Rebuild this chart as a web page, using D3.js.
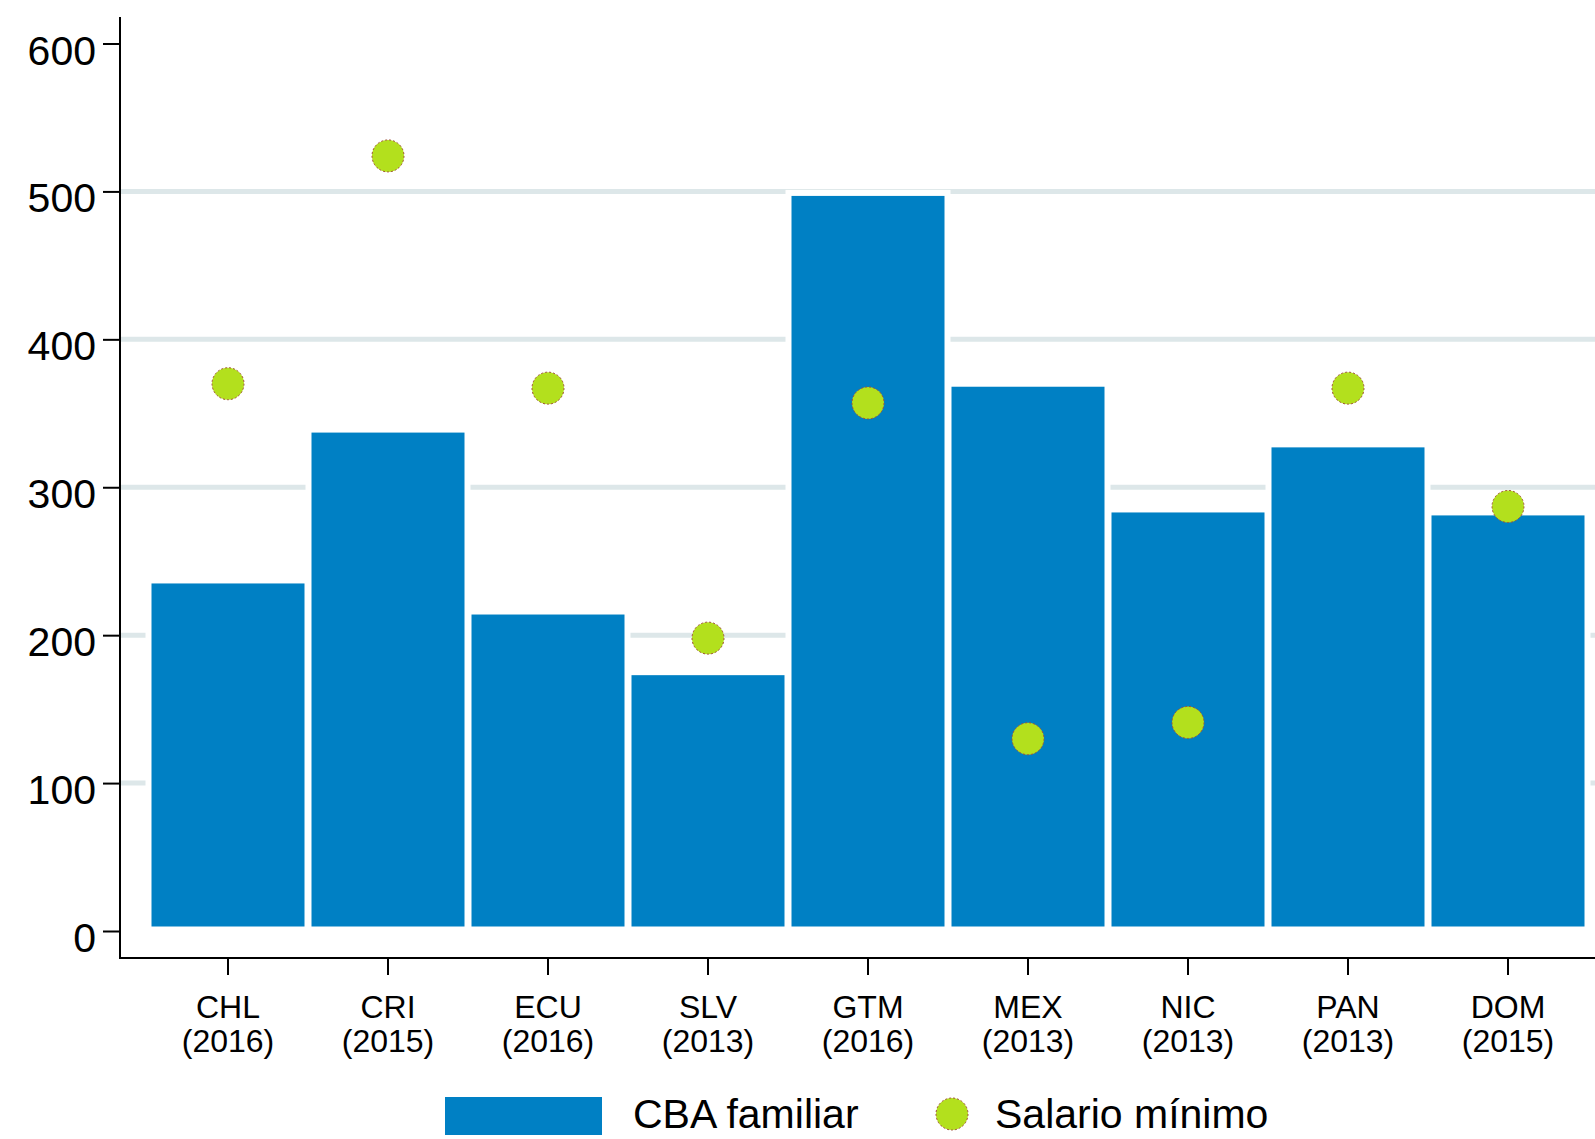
<!DOCTYPE html>
<meta charset="utf-8">
<head>
  <title>CBA familiar y salario minimo</title>
</head>

<style>
body { margin: 0; background: #fff; }
text {
  font-family: "Liberation Sans", Arial, Helvetica, sans-serif;
  fill: #000;
}
.grid line { stroke: #dde7e9; stroke-width: 5; }
.bar { fill: #0080c4; stroke: #fff; stroke-width: 12; paint-order: stroke; }
.dot { fill: #b3e01d; stroke: #a0503a; stroke-width: 1; stroke-dasharray: 2,2; }
</style>

<body>
  <svg width="1595" height="1139"></svg>

  <script src="https://cdnjs.cloudflare.com/ajax/libs/d3/7.8.5/d3.min.js"></script>
  <script>

  // countries and survey years
  var countries = ['CHL', 'CRI', 'ECU', 'SLV', 'GTM', 'MEX', 'NIC', 'PAN', 'DOM'];
  var years = ['(2016)', '(2015)', '(2016)', '(2013)', '(2016)', '(2013)', '(2013)', '(2013)', '(2015)'];

  // CBA familiar (bars) and salario minimo (dots)
  var cbaFamiliar = [238, 340, 217, 176, 500, 371, 286, 330, 284];
  var salarioMinimo = [370, 524, 367, 198, 357, 130, 141, 367, 287];

  var yTicks = [0, 100, 200, 300, 400, 500, 600];
  var gridTicks = [100, 200, 300, 400, 500];

  var svg = d3.select('svg');

  var plotLeft = 120, plotRight = 1595, axisY = 958, axisTop = 17;

  var x = d3.scaleBand()
    .domain(countries)
    .range([148, 1588]);

  var y = d3.scaleLinear()
    .domain([0, 600])
    .range([931, 43.5]);

  var insetX = 3.5, insetY = 4.5;

  // gridlines
  svg.append('g')
    .attr('class', 'grid')
    .selectAll('line')
    .data(gridTicks)
    .enter()
    .append('line')
    .attr('x1', plotLeft)
    .attr('x2', plotRight)
    .attr('y1', function(d) { return y(d); })
    .attr('y2', function(d) { return y(d); });

  // bars
  svg.append('g')
    .selectAll('rect')
    .data(countries)
    .enter()
    .append('rect')
    .attr('class', 'bar')
    .attr('x', function(d) { return x(d) + insetX; })
    .attr('width', x.bandwidth() - 2 * insetX)
    .attr('y', function(d, i) { return y(cbaFamiliar[i]) + insetY; })
    .attr('height', function(d, i) { return y(0) - y(cbaFamiliar[i]) - 2 * insetY; });

  // dots
  svg.append('g')
    .selectAll('circle')
    .data(countries)
    .enter()
    .append('circle')
    .attr('class', 'dot')
    .attr('cx', function(d) { return x(d) + x.bandwidth() / 2; })
    .attr('cy', function(d, i) { return y(salarioMinimo[i]); })
    .attr('r', 16);

  // y axis
  var yAxis = d3.axisLeft(y)
    .tickValues(yTicks)
    .tickSize(17)
    .tickPadding(7);

  var gy = svg.append('g')
    .attr('transform', 'translate(' + plotLeft + ',0)')
    .call(yAxis);
  gy.select('.domain').remove();
  gy.selectAll('.tick line').attr('stroke', '#000').attr('stroke-width', 2);
  gy.selectAll('.tick text')
    .attr('font-size', 41)
    .attr('dy', '0.5em')
    .attr('font-family', '"Liberation Sans", Arial, sans-serif');

  svg.append('line')
    .attr('x1', plotLeft).attr('x2', plotLeft)
    .attr('y1', axisTop).attr('y2', axisY + 1)
    .attr('stroke', '#000').attr('stroke-width', 2);

  // x axis
  var xAxis = d3.axisBottom(x)
    .tickSize(17)
    .tickFormat('');

  var gx = svg.append('g')
    .attr('transform', 'translate(0,' + axisY + ')')
    .call(xAxis);
  gx.select('.domain').remove();
  gx.selectAll('.tick line').attr('stroke', '#000').attr('stroke-width', 2);

  svg.append('line')
    .attr('x1', plotLeft - 1).attr('x2', plotRight)
    .attr('y1', axisY).attr('y2', axisY)
    .attr('stroke', '#000').attr('stroke-width', 2);

  var labels = svg.append('g')
    .selectAll('text')
    .data(countries)
    .enter()
    .append('text')
    .attr('text-anchor', 'middle')
    .attr('font-size', 32)
    .attr('x', function(d) { return x(d) + x.bandwidth() / 2; });

  labels.append('tspan')
    .attr('x', function(d) { return x(d) + x.bandwidth() / 2; })
    .attr('y', 1018)
    .text(function(d) { return d; });

  labels.append('tspan')
    .attr('x', function(d) { return x(d) + x.bandwidth() / 2; })
    .attr('y', 1052)
    .text(function(d, i) { return years[i]; });

  // legend
  var legend = svg.append('g');
  legend.append('rect')
    .attr('x', 445).attr('y', 1097)
    .attr('width', 157).attr('height', 38)
    .attr('fill', '#0080c4');
  legend.append('text')
    .attr('x', 633).attr('y', 1128)
    .attr('font-size', 41)
    .text('CBA familiar');
  legend.append('circle')
    .attr('class', 'dot')
    .attr('cx', 952).attr('cy', 1114)
    .attr('r', 16);
  legend.append('text')
    .attr('x', 995).attr('y', 1128)
    .attr('font-size', 41)
    .text('Salario mínimo');

  </script>
</body>
</html>
